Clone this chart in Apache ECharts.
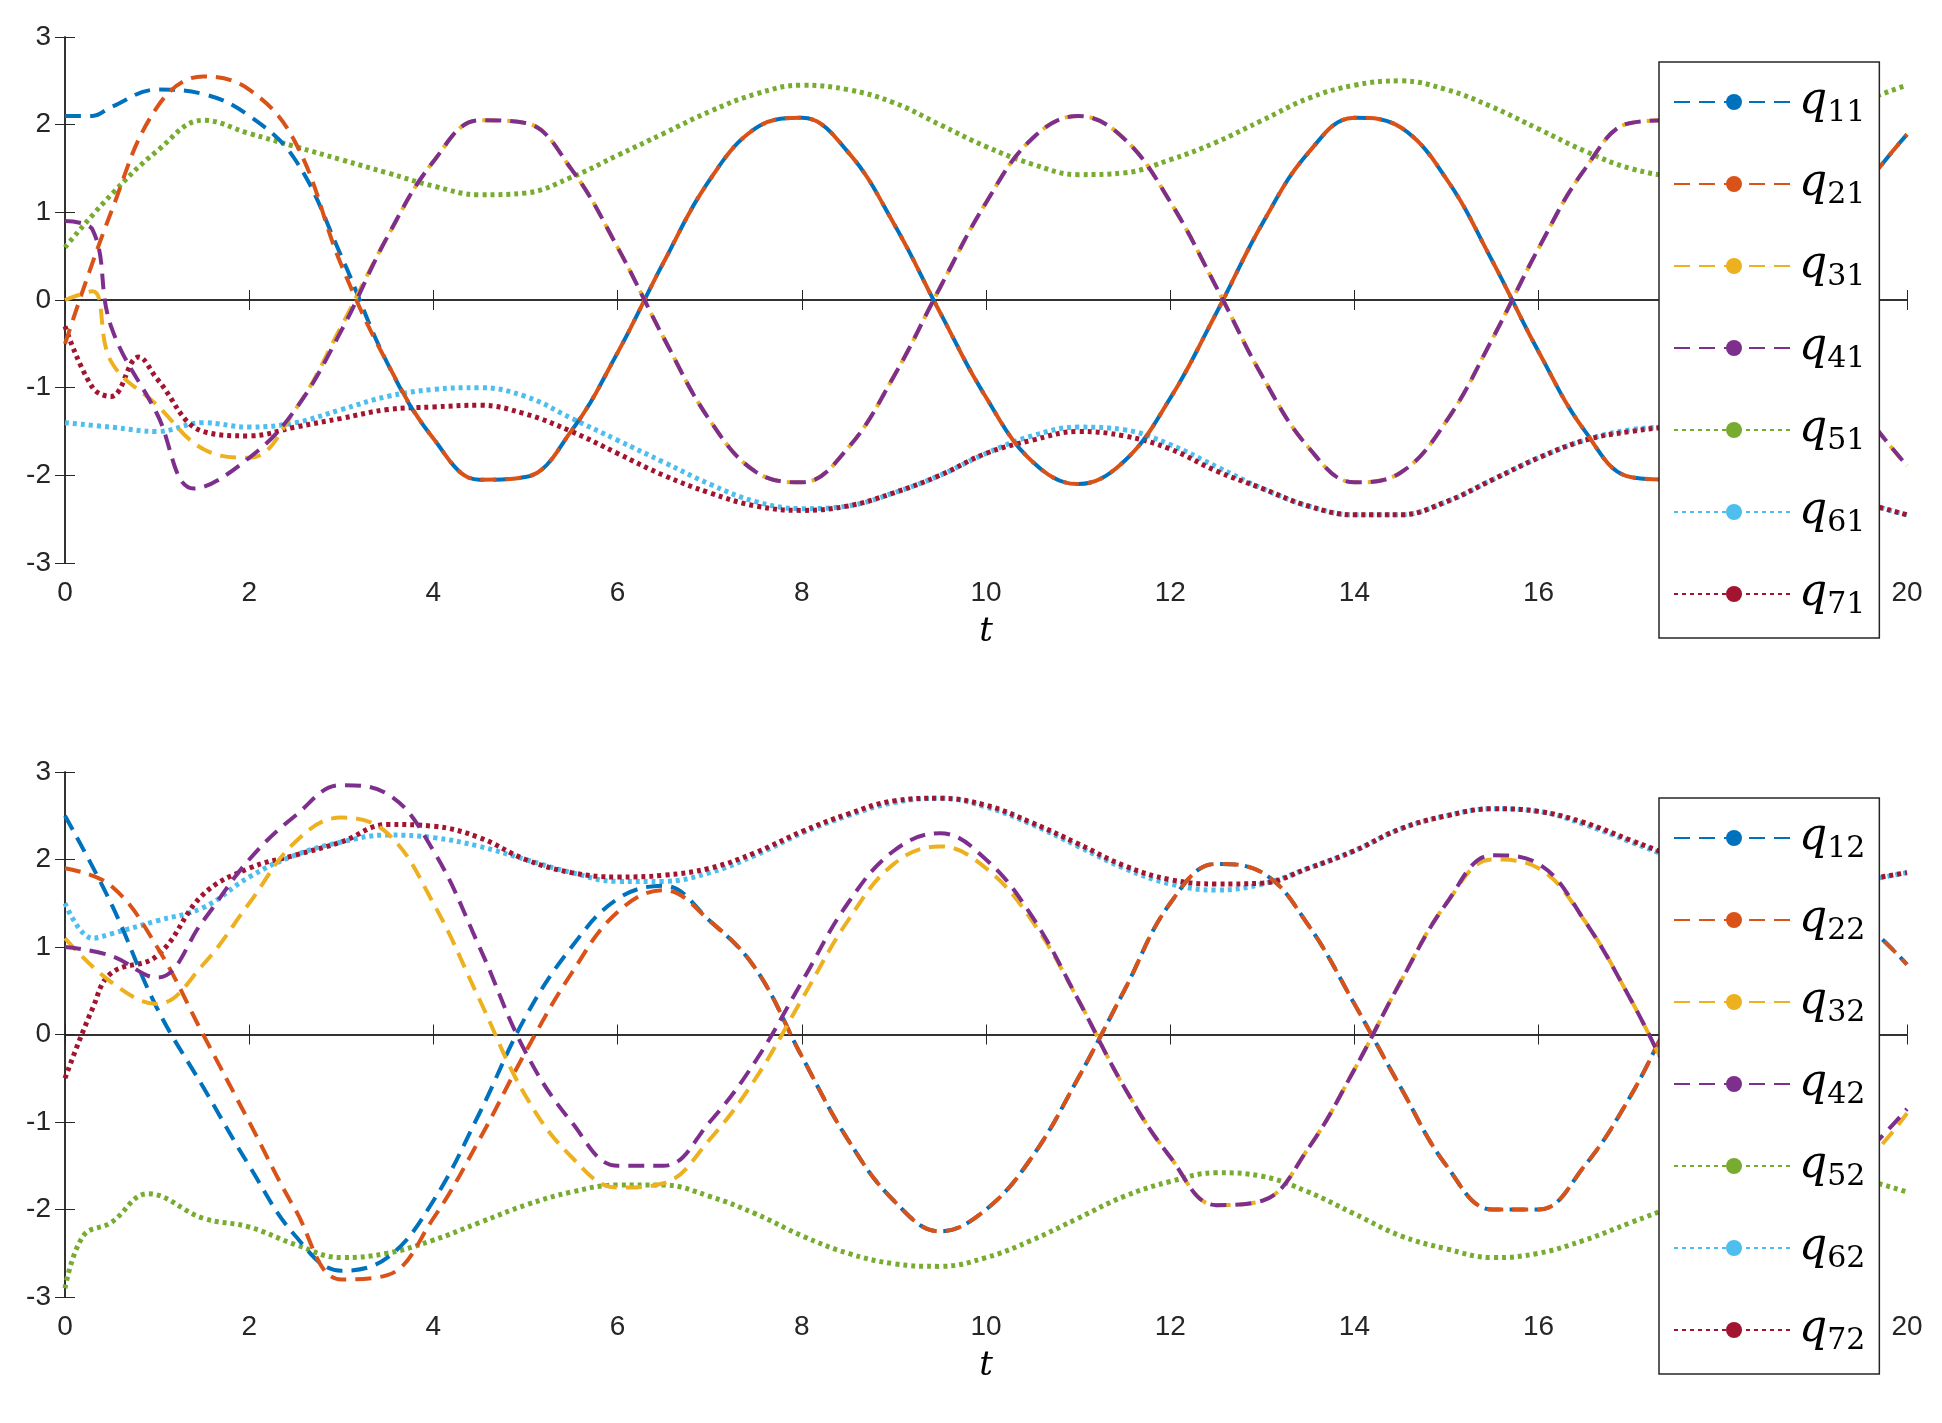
<!DOCTYPE html>
<html><head><meta charset="utf-8">
<script src="https://cdn.jsdelivr.net/npm/echarts@6/dist/echarts.min.js"></script>
<style>html,body{margin:0;padding:0;background:#fff}#c{width:1942px;height:1423px}</style>
</head><body><div id="c"></div>
<script>
const tTicks=[0,2,4,6,8,10,12,14,16,18,20];
const yTicks=[-3,-2,-1,0,1,2,3];
const colors=['#0072BD','#D95319','#EDB120','#7E2F8E','#77AC30','#4DBEEE','#A2142F'];
const T=[3.5,4,4.5,5,5.5,6,6.5,7,7.5,8,8.5,9,9.5,10,10.5,11,11.5,12,12.5,13,13.5,14,14.5,15,15.5,16,16.5,17,17.5,18,18.5,19,19.5,20];
const A=[-0.72,-1.58,-2.05,-2.02,-1.49,-0.6,0.43,1.37,1.96,2.08,1.69,0.87,-0.14,-1.11,-1.84,-2.1,-1.84,-1.12,-0.15,0.87,1.68,2.08,1.97,1.38,0.44,-0.59,-1.49,-2.02,-2.05,-1.58,-0.74,0.27,1.22,1.89];
const Aneg=A.map(v=>-v);
const q11=[[0,2.1],[0.3,2.1],[0.5,2.2],[1,2.4],[1.5,2.35],[2,2.1],[2.5,1.6],[3,0.5]];
const q21=[[0,-0.5],[0.5,1.0],[1,2.2],[1.5,2.55],[2,2.4],[2.5,1.8],[3,0.4]];
const q31=[[0,0],[0.3,0.1],[0.5,-0.7],[1,-1.2],[1.5,-1.7],[2,-1.8],[2.5,-1.25],[3,-0.3]];
const q41=[[0,0.9],[0.3,0.8],[0.5,-0.3],[1,-1.3],[1.4,-2.15],[2,-1.8],[2.5,-1.25],[3,-0.35]];
const q51=[0.6,1.2,1.7,2.05,1.9,1.75,1.6,1.45,1.3,1.2,1.22,1.4,1.65,1.9,2.15,2.35,2.45,2.4,2.25,2.0,1.75,1.55,1.43,1.45,1.6,1.8,2.05,2.3,2.45,2.5,2.4,2.2,1.95,1.7,1.5,1.42,1.45,1.65,1.95,2.25,2.45];
const q61=[-1.4,-1.45,-1.5,-1.4,-1.45,-1.4,-1.25,-1.1,-1.02,-1.0,-1.1,-1.35,-1.6,-1.85,-2.1,-2.3,-2.38,-2.35,-2.2,-2.0,-1.75,-1.55,-1.45,-1.48,-1.65,-1.9,-2.15,-2.35,-2.45,-2.45,-2.3,-2.05,-1.8,-1.6,-1.48,-1.45,-1.55,-1.8,-2.1,-2.3,-2.45];
const q71=[[0,-0.3],[0.3,-1.0],[0.5,-1.1],[0.8,-0.65],[1,-0.9],[1.5,-1.5],[2,-1.55],[2.5,-1.45],[3,-1.35],[3.5,-1.25],[4,-1.22],[4.5,-1.2],[5,-1.3],[5.5,-1.5],[6,-1.75],[6.5,-2.0],[7,-2.2],[7.5,-2.35],[8,-2.4],[8.5,-2.35],[9,-2.2],[9.5,-2.0],[10,-1.75],[10.5,-1.6],[11,-1.5],[11.5,-1.55],[12,-1.7],[12.5,-1.95],[13,-2.15],[13.5,-2.35],[14,-2.45],[14.5,-2.45],[15,-2.3],[15.5,-2.05],[16,-1.8],[16.5,-1.6],[17,-1.5],[17.5,-1.45],[18,-1.55],[18.5,-1.8],[19,-2.1],[19.5,-2.3],[20,-2.45]];
const G=Array.from({length:41},(_,i)=>i*0.5);
const q12=[2.5,1.5,0.3,-0.6,-1.5,-2.3,-2.7,-2.55,-1.9,-0.9,0.2,1.0,1.55,1.7,1.3,0.75,-0.25,-1.2,-1.9,-2.25,-2.0,-1.4,-0.5,0.5,1.5,1.95,1.85,1.25,0.35,-0.6,-1.5,-2.0,-2.0,-1.5,-0.7,0.3,1.1,1.5,1.6,1.3,0.8];
const q22=[1.9,1.7,1.0,0.0,-1.0,-2.0,-2.8,-2.75,-2.1,-1.2,-0.2,0.7,1.4,1.65,1.3,0.75,-0.25,-1.2,-1.9,-2.25,-2.0,-1.4,-0.5,0.5,1.5,1.95,1.85,1.25,0.35,-0.6,-1.5,-2.0,-2.0,-1.5,-0.7,0.3,1.1,1.5,1.6,1.3,0.8];
const q32=[1.1,0.6,0.35,0.8,1.5,2.2,2.48,2.3,1.5,0.4,-0.7,-1.4,-1.75,-1.7,-1.2,-0.5,0.4,1.3,1.95,2.15,1.9,1.3,0.4,-0.6,-1.4,-1.95,-1.9,-1.3,-0.4,0.6,1.5,2.0,1.9,1.3,0.4,-0.6,-1.4,-1.8,-1.8,-1.5,-0.9];
const q42=[1.0,0.9,0.65,1.3,2.0,2.5,2.85,2.75,2.1,1.0,-0.2,-1.0,-1.5,-1.5,-1.0,-0.3,0.6,1.5,2.1,2.3,2.0,1.35,0.4,-0.6,-1.4,-1.95,-1.9,-1.3,-0.4,0.6,1.5,2.05,1.95,1.3,0.4,-0.6,-1.4,-1.8,-1.8,-1.4,-0.85];
const q52=[[0,-2.9],[0.2,-2.3],[0.5,-2.15],[0.9,-1.82],[1.5,-2.1],[2,-2.2],[2.5,-2.4],[3,-2.55],[3.5,-2.5],[4,-2.35],[4.5,-2.15],[5,-1.95],[5.5,-1.8],[6,-1.72],[6.5,-1.72],[7,-1.85],[7.5,-2.05],[8,-2.3],[8.5,-2.5],[9,-2.62],[9.5,-2.65],[10,-2.55],[10.5,-2.35],[11,-2.1],[11.5,-1.85],[12,-1.68],[12.5,-1.58],[13,-1.62],[13.5,-1.8],[14,-2.05],[14.5,-2.3],[15,-2.45],[15.5,-2.55],[16,-2.5],[16.5,-2.35],[17,-2.15],[17.5,-1.95],[18,-1.75],[18.5,-1.6],[19,-1.55],[19.5,-1.65],[20,-1.8]];
const q62=[[0,1.5],[0.3,1.1],[0.5,1.15],[1,1.3],[1.5,1.45],[2,1.8],[2.5,2.05],[3,2.2],[3.5,2.28],[4,2.25],[4.5,2.15],[5,2.0],[5.5,1.85],[6,1.75],[6.5,1.75],[7,1.85],[7.5,2.05],[8,2.3],[8.5,2.5],[9,2.65],[9.5,2.7],[10,2.6],[10.5,2.4],[11,2.15],[11.5,1.9],[12,1.72],[12.5,1.65],[13,1.72],[13.5,1.9],[14,2.1],[14.5,2.35],[15,2.5],[15.5,2.58],[16,2.55],[16.5,2.4],[17,2.2],[17.5,2.0],[18,1.8],[18.5,1.68],[19,1.65],[19.5,1.75],[20,1.85]];
const q72=[[0,-0.5],[0.3,0.3],[0.5,0.7],[1,0.9],[1.5,1.6],[2,1.9],[2.5,2.05],[3,2.2],[3.5,2.4],[4,2.38],[4.5,2.25],[5,2.0],[5.5,1.85],[6,1.8],[6.5,1.82],[7,1.9],[7.5,2.08],[8,2.32],[8.5,2.52],[9,2.67],[9.5,2.7],[10,2.62],[10.5,2.42],[11,2.18],[11.5,1.93],[12,1.77],[12.5,1.72],[13,1.73],[13.5,1.9],[14,2.1],[14.5,2.35],[15,2.5],[15.5,2.58],[16,2.55],[16.5,2.42],[17,2.22],[17.5,2.02],[18,1.82],[18.5,1.7],[19,1.67],[19.5,1.76],[20,1.85]];

const zipT=(t,v)=>t.map((x,i)=>[x,v[i]]);
const topSet=[q11.concat(zipT(T,A)),q21.concat(zipT(T,A)),q31.concat(zipT(T,Aneg)),q41.concat(zipT(T,Aneg)),zipT(G,q51),zipT(G,q61),q71];
const botSet=[zipT(G,q12),zipT(G,q22),zipT(G,q32),zipT(G,q42),q52,q62,q72];
const names1=['11','21','31','41','51','61','71'];
const names2=['12','22','32','42','52','62','72'];

const grids=[{left:65,top:37,width:1842,height:526},{left:65,top:772,width:1842,height:525}];
const lbl={fontFamily:'Arial',fontSize:28,color:'#262626'};
const xAxes=[],yAxes=[];
grids.forEach((g,i)=>{
  xAxes.push({type:'value',gridIndex:i,min:0,max:20,interval:2,position:'bottom',
    axisLine:{lineStyle:{color:'#262626',width:1.5}},axisTick:{inside:true,length:10,lineStyle:{color:'#262626'}},
    axisLabel:Object.assign({margin:16},lbl),splitLine:{show:false},
    name:'t',nameLocation:'middle',nameGap:52,nameTextStyle:{fontFamily:'DejaVu Serif',fontStyle:'italic',fontSize:34,color:'#000'}});
  xAxes.push({type:'value',gridIndex:i,min:0,max:20,interval:2,position:'top',
    axisLine:{lineStyle:{color:'#262626',width:1.5}},axisTick:{inside:true,length:10,lineStyle:{color:'#262626'}},axisLabel:{show:false},splitLine:{show:false}});
  yAxes.push({type:'value',gridIndex:i,min:-3,max:3,interval:1,position:'left',
    axisLine:{show:true,lineStyle:{color:'#262626',width:1.5}},axisTick:{show:true,inside:true,length:10,lineStyle:{color:'#262626'}},
    axisLabel:Object.assign({margin:14},lbl),splitLine:{show:false}});
  yAxes.push({type:'value',gridIndex:i,min:-3,max:3,interval:1,position:'right',
    axisLine:{show:true,lineStyle:{color:'#262626',width:1.5}},axisTick:{show:true,inside:true,length:10,lineStyle:{color:'#262626'}},axisLabel:{show:false},splitLine:{show:false}});
});
const series=[];
[topSet,botSet].forEach((set,gi)=>{
  const nm=gi?names2:names1;
  set.forEach((d,k)=>{
    series.push({name:'q'+nm[k],type:'line',xAxisIndex:gi*2,yAxisIndex:gi*2,data:d,smooth:0.4,showSymbol:false,symbol:'none',
      lineStyle:{color:colors[k],width:k<4?4:5,type:k<4?[16,9]:[4,4]},itemStyle:{color:colors[k]},z:k<4?3:2});
  });
});
const legStyle={rich:{q:{fontFamily:'DejaVu Serif',fontStyle:'italic',fontSize:44,color:'#000'},s:{fontFamily:'DejaVu Serif',fontSize:30,color:'#000',padding:[22,0,0,0]}}};
const mkLegend=(names,topY)=>({orient:'vertical',left:1659,top:topY,width:220,itemWidth:120,itemHeight:20,itemGap:34,
  backgroundColor:'#fff',borderColor:'#262626',borderWidth:1.5,padding:[18,14,18,14],borderRadius:0,
  data:names.map(n=>'q'+n),
  formatter:n=>'{q|q}{s|'+n.slice(1)+'}',textStyle:legStyle,z:10});
const option={animation:false,backgroundColor:'#fff',grid:grids,xAxis:xAxes,yAxis:yAxes,series:series,
  legend:[mkLegend(names1,62),mkLegend(names2,798)]};
const ch=echarts.init(document.getElementById('c'));
ch.setOption(option);
</script></body></html>
